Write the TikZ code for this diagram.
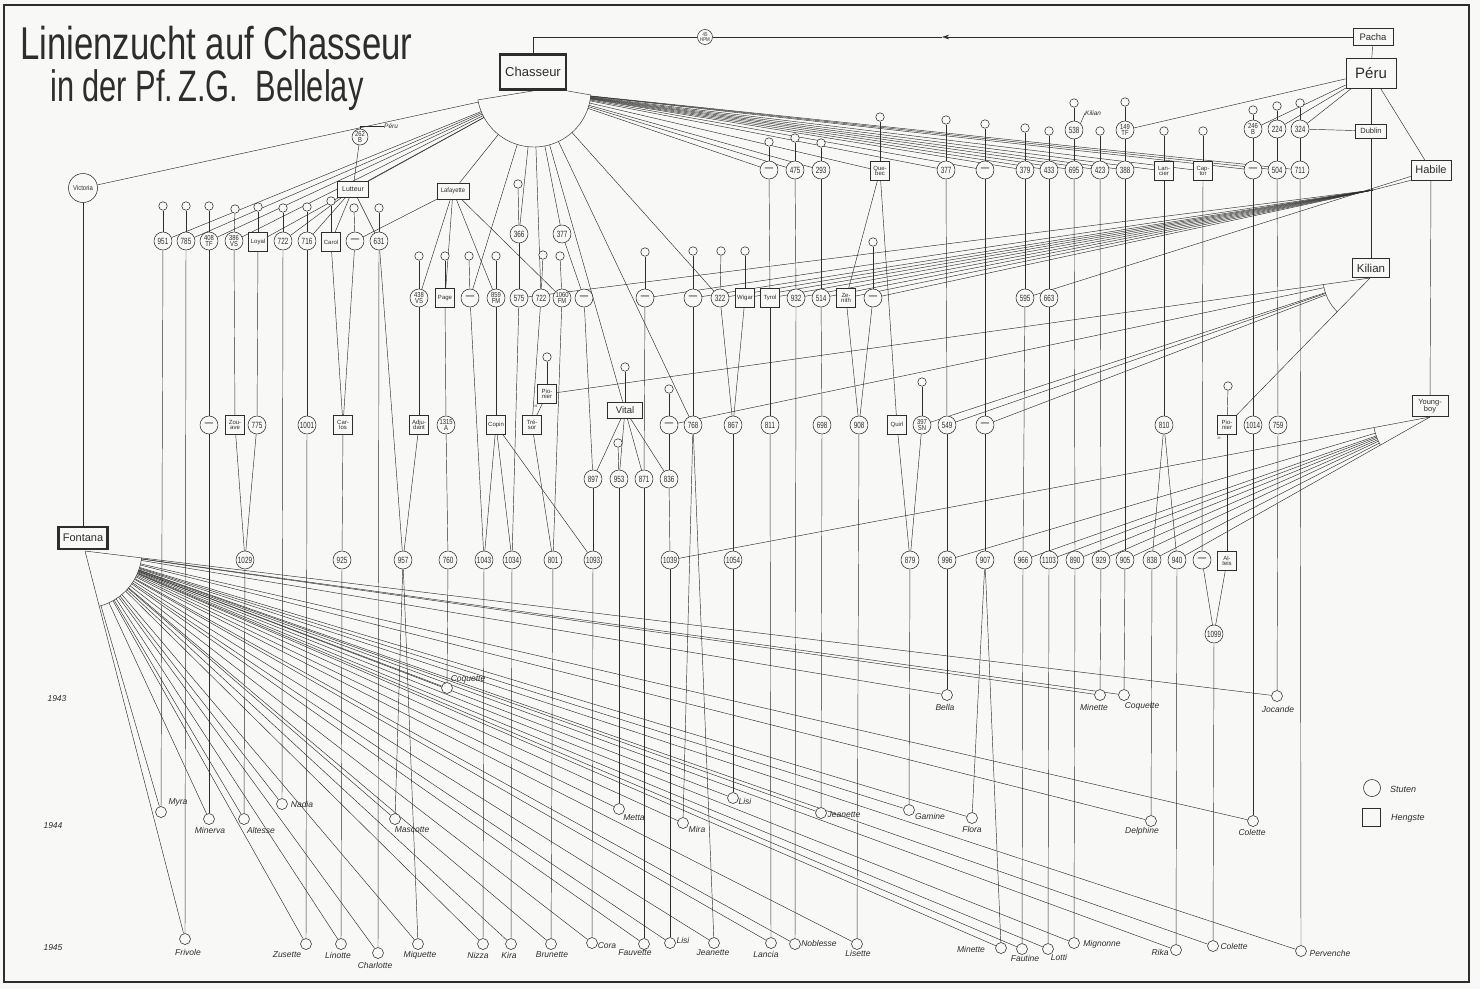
\documentclass[tikz,border=0pt]{standalone}
\usepackage{fontspec}
\setmainfont{Liberation Sans}
\usepackage{graphicx}
\usetikzlibrary{calc,arrows.meta}
\pgfdeclarelayer{bg}
\pgfsetlayers{bg,main}
\definecolor{ink}{RGB}{45,45,45}
\definecolor{paper}{RGB}{248,248,246}
\newcommand{\mydash}{{\fontsize{12}{12}\selectfont\textemdash}}
\newcommand{\nar}[1]{\scalebox{0.7}[1]{#1}}
\newcommand{\nartwo}[1]{\scalebox{0.8}[1]{#1}}
\begin{document}
\begin{tikzpicture}[x=1pt,y=-1pt,
  ln/.style={draw=ink,line width=0.45pt},
  mare/.style={circle,draw=ink,fill=paper,line width=0.55pt,minimum size=18pt,inner sep=0pt,font=\fontsize{9}{9}\selectfont,text=ink,align=center},
  maretwo/.style={mare,font=\fontsize{7.3}{6.4}\selectfont},
  stal/.style={rectangle,draw=ink,fill=paper,line width=0.65pt,minimum width=19pt,minimum height=19pt,inner sep=0.8pt,font=\fontsize{6}{5.6}\selectfont,text=ink,align=center},
  wstal/.style={rectangle,draw=ink,fill=paper,line width=0.65pt,inner sep=1.5pt,text=ink,align=center},
  damc/.style={circle,draw=ink,fill=paper,line width=0.55pt,minimum size=8.5pt,inner sep=0pt},
  filly/.style={circle,draw=ink,fill=paper,line width=0.55pt,minimum size=11pt,inner sep=0pt},
  nm/.style={font=\fontsize{8.5}{8.5}\selectfont\itshape,text=ink,inner sep=0pt},
  yr/.style={font=\fontsize{8.5}{8.5}\selectfont\itshape,text=ink,inner sep=0pt}]
\useasboundingbox (0,0) rectangle (1480,989);

% ---- title
\node[anchor=base west,inner sep=0,text=ink] (t1) at (20,59) {\fontsize{46}{46}\selectfont\scalebox{0.756}[1]{Linienzucht auf Chasseur}};
\node[anchor=base west,inner sep=0,text=ink] (t2) at (50,101) {\fontsize{44}{44}\selectfont\scalebox{0.70}[1]{in der Pf.\,Z.G.\ \ Bellelay}};

% ---- main stallions
\node[rectangle,draw=ink,fill=paper,line width=2.8pt,minimum width=66pt,minimum height=35pt,font=\fontsize{13}{13}\selectfont,text=ink] (cha) at (533,72) {Chasseur};
\node[rectangle,draw=ink,fill=paper,line width=2.4pt,minimum width=49pt,minimum height=22pt,font=\fontsize{11}{11}\selectfont,text=ink] (fon) at (83,538) {Fontana};
\node[circle,draw=ink,fill=paper,line width=0.55pt,minimum size=29pt,inner sep=0pt,font=\fontsize{7}{7}\selectfont,text=ink] (vic) at (83,188) {\scalebox{0.85}[1]{Victoria}};
\node[wstal,minimum width=40pt,minimum height=17pt,font=\fontsize{9.5}{9.5}\selectfont] (pacha) at (1373,37) {Pacha};
\node[wstal,minimum width=50pt,minimum height=30pt,font=\fontsize{15}{15}\selectfont] (peru) at (1371,73) {Péru};
\node[wstal,minimum width=31pt,minimum height=14pt,font=\fontsize{7.5}{7.5}\selectfont] (dub) at (1371,131) {Dublin};
\node[wstal,minimum width=40pt,minimum height=20pt,font=\fontsize{11}{11}\selectfont] (hab) at (1431,170) {Habile};
\node[wstal,minimum width=37pt,minimum height=19pt,font=\fontsize{11.5}{11.5}\selectfont] (kil) at (1371,268) {Kilian};
\node[wstal,minimum width=36pt,minimum height=21pt,font=\fontsize{7.5}{7}\selectfont] (yb) at (1430,406) {Young-\\boy};
\node[wstal,minimum width=31pt,minimum height=16pt,font=\fontsize{7}{7}\selectfont] (lut) at (353,189) {Lutteur};
\node[wstal,minimum width=32pt,minimum height=16pt,font=\fontsize{6.5}{6.5}\selectfont] (laf) at (453,191) {\scalebox{0.9}[1]{Lafayette}};
\node[wstal,minimum width=35pt,minimum height=16pt,font=\fontsize{9.5}{9.5}\selectfont] (vit) at (625,410) {Vital};
\node[maretwo,minimum size=15pt,font=\fontsize{5.5}{5}\selectfont] (h45) at (705,37) {\nartwo{45}\\\nartwo{HPM}};

% ---- mares (numbered)
\foreach \n/\x/\y/\t in {a769/769/170/\mydash,a796/795/170/475,a821/821/170/293,a946/946/170/377,a985/985/170/\mydash,a1025/1025/170/379,a1049/1049/170/433,a1074/1074/170/695,a1100/1100/170/423,a1126/1125/170/388,a1253/1253/170/\mydash,a1277/1277/170/504,a1300/1300/170/711,
 u1074/1074/130/538,u1277/1277/129/224,u1300/1300/129/324,
 b162/163/241/951,b185/186/241/785,b282/283/241/722,b306/307/241/716,b355/355/241/\mydash,b379/379/241/631,
 c470/470/298/\mydash,c519/519/298/575,c541/541/298/722,c584/584/298/\mydash,c645/645/298/\mydash,c693/693/298/\mydash,c720/720/298/322,c796/796/298/932,c821/821/298/514,c873/873/298/\mydash,c1024/1025/298/595,c1049/1049/298/663,
 u519/519/234/366,u562/562/234/377,
 e209/209/425/\mydash,e257/257/425/775,e307/307/425/1001,e670/669/425/\mydash,e694/693/425/768,e733/733/425/867,e770/770/425/811,e822/822/425/698,e859/859/425/908,e947/947/425/549,e985/985/425/\mydash,e1164/1164/425/810,e1253/1253/425/1014,e1278/1278/425/759,
 f593/593/479/897,f619/619/479/953,f644/644/479/871,f670/669/479/836,
 g245/245/560/1029,g343/342/560/925,g404/403/560/957,g447/448/560/760,g485/484/560/1043,g512/512/560/1034,g552/553/560/801,g593/593/560/1093,g670/670/560/1039,g733/733/560/1054,g910/910/560/879,g947/947/560/996,g985/985/560/907,g1024/1023/560/966,g1049/1049/560/1103,g1075/1075/560/890,g1101/1101/560/929,g1125/1125/560/905,g1151/1152/560/838,g1176/1177/560/940,g1202/1202/560/\mydash,h1214/1214/634/1099}
  \node[mare] (\n) at (\x,\y) {\nar{\t}};

\node[maretwo] (u1125) at (1125,130) {\nartwo{149}\\\nartwo{TF}};
\node[maretwo] (u1253) at (1253,129) {\nartwo{246}\\\nartwo{B}};
\node[maretwo] (b209) at (209,241) {\nartwo{408}\\\nartwo{TF}};
\node[maretwo] (b233) at (234,241) {\nartwo{386}\\\nartwo{VS}};
\node[maretwo] (c420) at (419,298) {\nartwo{438}\\\nartwo{VS}};
\node[maretwo] (c496) at (496,298) {\nartwo{859}\\\nartwo{FM}};
\node[maretwo] (c562) at (562,298) {\nartwo{1060}\\\nartwo{FM}};
\node[maretwo] (e447) at (446,425) {\nartwo{1315}\\\nartwo{A}};
\node[maretwo] (e922) at (922,425) {\nartwo{397}\\\nartwo{SN}};
\node[maretwo,minimum size=16pt] (u358) at (360,137) {\nartwo{262}\\\nartwo{B}};

% ---- stallions (small boxes)
\node[stal] (aQue) at (880,171) {Que-\\bec};
\node[stal] (aLan) at (1164,171) {Lan-\\cier};
\node[stal] (aCap) at (1203,171) {Cap-\\tor};
\node[stal] (bLoy) at (258,242) {Loyal};
\node[stal] (bCar) at (331,242) {Carol};
\node[stal] (cPage) at (445,298) {Page};
\node[stal] (cWig) at (745,298) {Wigar};
\node[stal] (cTyr) at (770,298) {Tyrol};
\node[stal] (cZen) at (846,298) {Ze-\\nith};
\node[stal] (eZou) at (235,425) {Zou-\\ave};
\node[stal] (eCarl) at (343,425) {Car-\\los};
\node[stal] (eAdj) at (419,425) {Adju-\\dant};
\node[stal] (eCop) at (496,425) {Copin};
\node[stal] (eTre) at (532,425) {Tré-\\sor};
\node[stal] (pio1) at (547,394) {Pio-\\nier};
\node[stal] (eQui) at (897,425) {Quirl};
\node[stal] (pio2) at (1227,425) {Pio-\\nier};
\node[stal] (gAlt) at (1227,561) {Al-\\teis};
\node[font=\fontsize{3.5}{3.5}\selectfont,text=ink,inner sep=0] (r3a) at (536,406) {III};
\node[font=\fontsize{3.5}{3.5}\selectfont,text=ink,inner sep=0] (r3b) at (1219,438) {III};

% ---- small dam circles
\foreach \n/\x/\y in {da769/769/142,da796/795/138,da821/821/143,daQue/880/117,da946/946/120,da985/985/124,da1025/1025/128,da1049/1049/131,da1100/1100/131,daLan/1164/131,daCap/1203/131,du1074/1074/103,du1125/1125/102,du1253/1253/110,du1277/1277/106,du1300/1300/103,
 db162/163/206,db185/186/206,db209/209/206,db233/235/209,dbLoy/258/207,db282/283/208,db306/307/207,dbCar/331/201,db355/354/208,db379/379/208,
 dc420/419/256,dcPage/445/256,dc470/469/256,dc496/496/256,du519/518/184,dc541/543/255,dc562/560/256,dc645/645/252,dc693/693/251,dc720/721/251,dcWig/745/251,dc873/873/242,
 dpio1/547/357,dvit/625/367,de670/669/389,de922/922/382,dpio2/1228/386,df619/618/443}
  \node[damc] (\n) at (\x,\y) {};

% ---- daughters of Fontana
\foreach \n/\x/\y/\lx/\ly/\t in {Coq1/447/688/468/679/Coquette,Bella/947/695/945/707/Bella,Min1/1100/695/1094/707/Minette,Coq2/1124/695/1142/706/Coquette,Joc/1277/696/1278/709/Jocande,
 Myra/161/812/178/802/Myra,Minerva/209/819/210/830/Minerva,Alt/244/819/261/830/Altesse,Nadia/282/804/302/804/Nadia,Masc/395/819/412/830/Mascotte,Metta/619/809/634/818/Metta,Mira/683/823/697/829/Mira,Lisi1/733/798/745/801/Lisi,Jean1/821/813/844/815/Jeanette,Gam/909/810/930/816/Gamine,Flora/972/818/972/829/Flora,Delph/1151/821/1142/831/Delphine,Col1/1253/821/1252/832/Colette,
 Friv/185/939/188/952/Frivole,Zus/306/944/287/955/Zusette,Lin/341/944/338/955/Linotte,Char/378/953/375/965/Charlotte,Miq/418/944/420/955/Miquette,Niz/483/944/478/955/Nizza,Kira/511/944/509/955/Kira,Brun/551/944/552/955/Brunette,Cora/592/943/607/946/Cora,Fauv/644/944/635/953/Fauvette,Lisi2/670/943/683/940/Lisi,Jean2/714/943/713/953/Jeanette,Lan/771/943/766/954/Lancia,Nob/795/944/819/943/Noblesse,Lis/857/944/858/953/Lisette,Min2/1001/948/971/949/Minette,Faut/1022/949/1025/958/Fautine,Lotti/1048/949/1059/957/Lotti,Mign/1074/943/1102/944/Mignonne,Rika/1176/950/1160/952/Rika,Col2/1213/946/1234/946/Colette,Perv/1301/951/1330/953/Pervenche}
  {\node[filly] (m\n) at (\x,\y) {};
   \node[nm] (l\n) at (\lx,\ly) {\t};}

% ---- small labels, years, legend
\node[anchor=west,font=\fontsize{6.5}{6.5}\selectfont\itshape,text=ink,inner sep=0] (lPeru) at (384,126) {Péru};
\node[anchor=west,font=\fontsize{6.5}{6.5}\selectfont\itshape,text=ink,inner sep=0] (lKil) at (1085,113) {Kilian};
\node[yr] (y43) at (57,699) {1943};
\node[yr] (y44) at (53,826) {1944};
\node[yr] (y45) at (53,948) {1945};
\node[circle,draw=ink,line width=0.6pt,minimum size=17pt,inner sep=0] (legc) at (1372,788) {};
\node[font=\fontsize{9}{9}\selectfont\itshape,text=ink,inner sep=0,anchor=west] (legs) at (1390,789) {Stuten};
\node[rectangle,draw=ink,line width=0.6pt,minimum size=18pt,inner sep=0] (legq) at (1371,817) {};
\node[font=\fontsize{9}{9}\selectfont\itshape,text=ink,inner sep=0,anchor=west] (legh) at (1391,818) {Hengste};

% ---- coordinates
\coordinate (cc) at (534,90);
\coordinate (fc) at (85,551);
\coordinate (kc) at (1370,278);
\coordinate (yc) at (1430,417);
\coordinate (hc) at (1373,190);
\coordinate (ctop) at (533,37);
\coordinate (arw) at (942,37);

\begin{pgfonlayer}{bg}
\fill[paper] (0,0) rectangle (1480,989);
\draw[ink,line width=1.1pt] (4,5) rectangle (1469,982);

% top line
\draw[ln] (cha.north) -- (ctop) -- (h45);
\draw[ln] (h45) -- (arw);
\draw[ln,-{Stealth[length=7pt,width=4.5pt]}] (pacha) -- (arw);

% Chasseur fan
\draw[ln] plot[domain=5:170,samples=50] ({534+57*cos(\x)},{90+57*sin(\x)});
\draw[ln] ({534+57*cos(170)},{90+57*sin(170)}) -- (cha.south);
\draw[ln] ({534+57*cos(5)},{90+57*sin(5)}) -- (cha.south east);
\foreach \t in {vic,b162,b185,b209,b233,bLoy,lut,laf,c470,u519,c541,u562,vit,e694,c720,a769,a796,a821,aQue,a946,a985,a1025,a1049,a1074,a1100,a1126,aLan,aCap,a1253,a1277,a1300}
  \draw[ln] ($(cc)!57pt!(\t)$) -- (\t);

% Fontana fan
\draw[ln] plot[domain=6.9:75.5,samples=40] ({85+57*cos(\x)},{551+57*sin(\x)});
\draw[ln] (fc) -- (mJoc);
\draw[ln] (fc) -- (mFriv);
\foreach \t in {mCoq1,mBella,mMin1,mCoq2,mMyra,mMinerva,mAlt,mNadia,mMasc,mMetta,mMira,mLisi1,mJean1,mGam,mFlora,mDelph,mCol1,mZus,mLin,mChar,mMiq,mNiz,mKira,mBrun,mCora,mFauv,mLisi2,mJean2,mLan,mNob,mLis,mMin2,mFaut,mLotti,mMign,mRika,mCol2,mPerv}
  \draw[ln] ($(fc)!57pt!(\t)$) -- (\t);

% Kilian fan
\draw[ln] plot[domain=134.2:172,samples=20] ({1370+47*cos(\x)},{278+47*sin(\x)});
\draw[ln] (kc) -- (pio1);
\draw[ln] (kc) -- (pio2);
\foreach \t in {e670,e922,e947,e985}
  \draw[ln] ($(kc)!47pt!(\t)$) -- (\t);

% Youngboy fan
\draw[ln] plot[domain=150.6:169.3,samples=20] ({1430+57*cos(\x)},{417+57*sin(\x)});
\draw[ln] (yc) -- (g670);
\draw[ln] (yc) -- (g1176);
\foreach \t in {g947,g1024,g1049,g1075,g1101,g1125,g1151}
  \draw[ln] ($(yc)!57pt!(\t)$) -- (\t);

% Habile bundle
\draw[ln] (hab.south west) -- (hc);
\foreach \t in {c519,c645,c693,c720,cWig,cTyr,c796,c821,cZen,c873}
  \draw[ln] (hc) -- (\t);

% label lines
\draw[ln] (u358.north) |- (lPeru.west);
\draw[ln] (u1074.north east) -- (lKil.west);
\draw[ln] (peru) -- (kil);

% descent lines
\foreach \a/\b in {da769/a769,da796/a796,da821/a821,daQue/aQue,da946/a946,da985/a985,da1025/a1025,da1049/a1049,da1100/a1100,daLan/aLan,daCap/aCap,
 du1074/u1074,u1074/a1074,du1125/u1125,u1125/a1126,du1253/u1253,u1253/a1253,du1277/u1277,u1277/a1277,du1300/u1300,u1300/a1300,
 db162/b162,db185/b185,db209/b209,db233/b233,dbLoy/bLoy,db282/b282,db306/b306,dbCar/bCar,db355/b355,db379/b379,
 dc420/c420,dcPage/cPage,dc470/c470,dc496/c496,du519/u519,u519/c519,dc541/c541,dc562/c562,dc645/c645,dc693/c693,dc720/c720,dcWig/cWig,dc873/c873,
 dpio1/pio1,dvit/vit,de670/e670,de922/e922,dpio2/pio2,df619/f619,u358/lut,
 b162/mMyra,b185/mFriv,b209/e209,e209/mMinerva,b233/eZou,bLoy/e257,eZou/g245,e257/g245,g245/mAlt,b282/mNadia,b306/e307,e307/mZus,bCar/eCarl,b355/eCarl,eCarl/g343,g343/mLin,b379/g404,b379/mChar,c420/eAdj,eAdj/g404,g404/mMasc,g404/mMiq,
 cPage/e447,e447/g447,g447/mCoq1,c470/g485,c496/eCop,eCop/g485,eCop/g512,eCop/g593,g485/mNiz,c519/g512,g512/mKira,c541/eTre,pio1/eTre,eTre/g552,c562/g552,g552/mBrun,
 u562/c584,c584/f593,vit/f593,vit/f619,vit/f644,vit/f670,f593/g593,g593/mCora,f619/mMetta,c645/f644,f644/mFauv,e670/f670,f670/g670,g670/mLisi2,
 c693/e694,e694/mMira,e694/mJean2,c720/e733,cWig/e733,e733/g733,g733/mLisi1,
 a769/cTyr,cTyr/e770,e770/mLan,a796/c796,c796/mNob,a821/c821,c821/e822,e822/mJean1,
 aQue/cZen,aQue/eQui,cZen/e859,c873/e859,e859/mLis,eQui/g910,e922/g910,g910/mGam,
 a946/e947,e947/g947,g947/mBella,a985/e985,e985/g985,g985/mFlora,g985/mMin2,
 a1025/c1024,c1024/g1024,g1024/mFaut,a1049/c1049,c1049/g1049,g1049/mLotti,a1074/g1075,g1075/mMign,a1100/g1101,g1101/mMin1,a1126/g1125,g1125/mCoq2,
 aLan/e1164,e1164/g1151,e1164/g1176,g1151/mDelph,g1176/mRika,aCap/g1202,g1202/h1214,pio2/gAlt,gAlt/h1214,h1214/mCol2,
 a1253/e1253,e1253/mCol1,a1277/e1278,e1278/mJoc,a1300/mPerv,
 lut/b282,lut/b306,lut/bCar,lut/b379,laf/b355,laf/c420,laf/cPage,laf/c496,laf/c562,
 pacha/peru,peru/u1125,peru/u1253,peru/u1277,peru/u1300,peru/hab,u1300/dub,hab/yb,hab/c1024,vic/fon}
  \draw[ln] (\a) -- (\b);
\end{pgfonlayer}
\end{tikzpicture}
\end{document}
